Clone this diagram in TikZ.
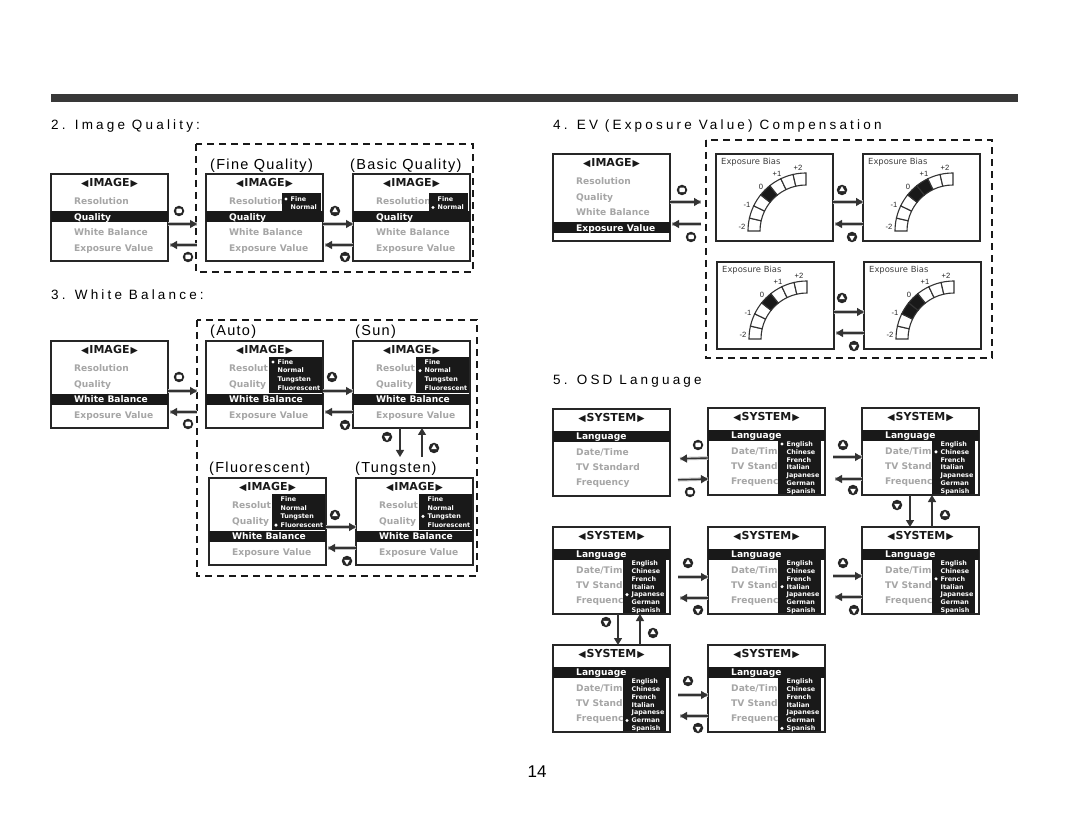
\documentclass[tikz,border=0pt]{standalone}
\usepackage{fontspec}
\setmainfont{Liberation Sans}
\newfontfamily\menufont{DejaVu Sans}
\newfontfamily\headfont[LetterSpace=23.5]{Liberation Sans}
\newfontfamily\capfont[LetterSpace=9]{Liberation Sans}
\usetikzlibrary{arrows.meta,shapes.geometric}

\tikzset{
  screenbox/.style={draw=black!85, line width=1.4pt, fill=white, anchor=north west, inner sep=0, outer sep=0, minimum width=117pt, minimum height=87pt},
  menutitle/.style={font=\menufont\bfseries\fontsize{11}{12}\selectfont, text=black!90, inner sep=0},
  menurow/.style={font=\menufont\bfseries\fontsize{9.1}{10}\selectfont, anchor=west, inner sep=0, text height=8pt, text depth=1.2pt},
  popitem/.style={font=\menufont\bfseries\fontsize{6.4}{7}\selectfont, text=white, anchor=west, inner sep=0, text height=5.6pt, text depth=1pt},
  biastitle/.style={font=\menufont\fontsize{8.4}{9}\selectfont, text=black!75, anchor=west, inner sep=0},
  biasnum/.style={font=\fontsize{7.6}{8}\selectfont, text=black!85, inner sep=0},
  gaugecell/.style={draw=black!80, line width=1.1pt},
  heading/.style={font=\headfont\fontsize{13.5}{14}\selectfont, anchor=west, inner sep=0},
  modelabel/.style={font=\capfont\fontsize{14.5}{15}\selectfont, anchor=west, inner sep=0},
  dashbox/.style={draw=black!90, line width=2pt, dash pattern=on 7pt off 5pt},
  arrowline/.style={-{Triangle[length=7pt,width=8pt]}, line width=1.4pt, black!80, preaction={draw, black!25, line width=3.5pt, -}},
  arrowplain/.style={-{Triangle[length=7pt,width=8pt]}, line width=1.4pt, black!80},
  btnbase/.style={circle, fill=black!85, minimum size=10.5pt, inner sep=0},
  btnglyph/.style={regular polygon, regular polygon sides=3, fill=white, minimum size=6.5pt, inner sep=0},
  btnring/.style={rounded corners=1pt, fill=white, minimum width=5.5pt, minimum height=4.5pt, inner sep=0}
}

\newcommand{\titleleft}{{\fontsize{9.5}{9.5}\selectfont ◀}\kern1pt}
\newcommand{\titleright}{\kern1pt{\fontsize{9.5}{9.5}\selectfont ▶}}

% name, x, y, highlighted row, first row text
\newcommand{\imagescreen}[5]{%
  \node[screenbox] (#1) at (#2,#3) {};
  \begin{scope}[shift={(#2,#3)}]
    \node[menutitle] (#1-title) at (58.5,9) {\titleleft IMAGE\titleright};
    \foreach \rowtext [count=\rown] in {#5,Quality,White Balance,Exposure Value} {
      \pgfmathsetmacro{\rowy}{27.5+(\rown-1)*15.4}
      \ifnum\rown=#4
        \fill[black!90] (0,\rowy-5.5) rectangle (117,\rowy+5.5);
        \node[menurow,text=white] (#1-r\rown) at (23,\rowy) {\rowtext};
      \else
        \node[menurow,text=black!35] (#1-r\rown) at (23,\rowy) {\rowtext};
      \fi
    }
  \end{scope}
}

% name, x, y, the three rows under the bar
\newcommand{\systemscreen}[4]{%
  \node[screenbox] (#1) at (#2,#3) {};
  \begin{scope}[shift={(#2,#3)}]
    \node[menutitle] (#1-title) at (58.5,9.5) {\titleleft SYSTEM\titleright};
    \fill[black!90] (0,22) rectangle (117,33);
    \node[menurow,text=white] (#1-lang) at (23,27.5) {Language};
    \foreach \rowtext [count=\rown] in {#4} {
      \pgfmathsetmacro{\rowy}{43+(\rown-1)*15.2}
      \node[menurow,text=black!35] (#1-r\rown) at (23,\rowy) {\rowtext};
    }
  \end{scope}
}

% screen, left, top, right, bottom, first item y, item step, bullet item, items
\newcommand{\popuplist}[9]{%
  \begin{scope}[shift={(#1.north west)}]
    \fill[black!90] (#2,#3) rectangle (#4,#5);
    \foreach \itemtext [count=\itemn] in {#9} {
      \pgfmathsetmacro{\itemy}{#6+(\itemn-1)*#7}
      \node[popitem] (#1-p\itemn) at (#2+8.5,\itemy) {\itemtext};
      \ifnum\itemn=#8
        \fill[white] (#2+4,\itemy) circle[radius=1.7pt];
      \fi
    }
  \end{scope}
}
\newcommand{\qualpopup}[2]{\popuplist{#1}{76}{19}{115}{38}{25}{8.5}{#2}{Fine,Normal}}
\newcommand{\wbpopup}[2]{\popuplist{#1}{63}{16}{116}{52}{21}{8.7}{#2}{Fine,Normal,Tungsten,Fluorescent}}
\newcommand{\langpopup}[2]{\popuplist{#1}{70}{33}{113}{86}{36}{7.9}{#2}{English,Chinese,French,Italian,Japanese,German,Spanish}}

% name, x, y, first and last dark cell
\newcommand{\biasscreen}[5]{%
  \node[screenbox] (#1) at (#2,#3) {};
  \begin{scope}[shift={(#2,#3)}]
    \node[biastitle] (#1-title) at (5,8) {Exposure Bias};
    \coordinate (#1-c) at (90,77);
    \foreach \s [evaluate=\s as \anga using 180-\s*90/7, evaluate=\s as \angb using 180-(\s+1)*90/7] in {0,...,6} {
      \def\cellfill{white}
      \ifnum\s<#4 \else\ifnum\s>#5 \else\def\cellfill{black!90}\fi\fi
      \draw[gaugecell,fill=\cellfill] (#1-c) ++(\anga:58pt) arc[start angle=\anga,end angle=\angb,radius=58pt]
        -- ++(\angb+180:12pt) arc[start angle=\angb,end angle=\anga,radius=46pt] -- cycle;
    }
    \node[biasnum] (#1-n1) at (26,73) {-2};
    \node[biasnum] (#1-n2) at (31,51) {-1};
    \node[biasnum] (#1-n3) at (45,33) {0};
    \node[biasnum] (#1-n4) at (61,20) {+1};
    \node[biasnum] (#1-n5) at (82,14) {+2};
  \end{scope}
}

\newcommand{\btnup}[3]{%
  \node[btnbase] (#1) at (#2,#3) {};
  \node[btnglyph] (#1-g) at ([yshift=0.5pt]#1) {};
}
\newcommand{\btndown}[3]{%
  \node[btnbase] (#1) at (#2,#3) {};
  \node[btnglyph,shape border rotate=180] (#1-g) at ([yshift=-0.5pt]#1) {};
}
\newcommand{\btnok}[3]{%
  \node[btnbase] (#1) at (#2,#3) {};
  \node[btnring] (#1-g) at (#1) {};
}

% gap, left end, right end, y of right arrow, y of left arrow (below the tops)
\newcommand{\arrowpair}[5]{%
  \draw[arrowline,shorten <=#1pt] ([yshift=-#4pt]#2) -- ([yshift=-#4pt]#3);
  \draw[arrowline,shorten >=#1pt+2pt] ([yshift=-#5pt]#3) -- ([yshift=-#5pt]#2);
}
% upper end, lower end, x of down arrow, x of up arrow
\newcommand{\vertpair}[4]{%
  \draw[arrowplain] ([xshift=#3pt]#1) -- ([xshift=#3pt]#2);
  \draw[arrowplain] ([xshift=#4pt]#2) -- ([xshift=#4pt]#1);
}

\begin{document}
\begin{tikzpicture}[x=1pt,y=-1pt]
  \useasboundingbox (0,0) rectangle (1080,834);
  \fill[black!78] (51,94) rectangle (1018,102);

  \node[heading] (headq) at (51,126) {2. Image Quality:};
  \node[heading] (headw) at (51,295) {3. White Balance:};
  \node[heading] (heade) at (553,126) {4. EV (Exposure Value) Compensation};
  \node[heading] (headl) at (553,381) {5. OSD Language};
  \node[font=\fontsize{17}{18}\selectfont,inner sep=0] (pagenum) at (537,772) {14};

  % image quality
  \draw[dashbox] (196,144) rectangle (473,272);
  \node[modelabel] (lfine) at (210,166) {(Fine Quality)};
  \node[modelabel] (lbasic) at (350,166) {(Basic Quality)};
  \imagescreen{imgq}{51}{174}{2}{Resolution}
  \imagescreen{fineq}{206}{174}{2}{Resolution}
  \imagescreen{basicq}{353}{174}{2}{Resolution}
  \qualpopup{fineq}{1}
  \qualpopup{basicq}{2}
  \coordinate (qedge) at (197,174);
  \arrowpair{0}{imgq.north east}{qedge}{50}{71}
  \arrowpair{0}{fineq.north east}{basicq.north west}{50}{71}
  \btnok{bq1}{179}{211}
  \btnok{bq2}{188}{257}
  \btnup{bq3}{335}{211}
  \btndown{bq4}{345}{257}

  % white balance
  \draw[dashbox] (197,320) rectangle (477,576);
  \node[modelabel] (lauto) at (210,332) {(Auto)};
  \node[modelabel] (lsun) at (355,332) {(Sun)};
  \node[modelabel] (lfluo) at (209,469) {(Fluorescent)};
  \node[modelabel] (ltung) at (355,469) {(Tungsten)};
  \imagescreen{imgw}{51}{341}{3}{Resolution}
  \imagescreen{autow}{206}{341}{3}{Resolut}
  \imagescreen{sunw}{353}{341}{3}{Resolut}
  \imagescreen{fluow}{209}{478}{3}{Resolut}
  \imagescreen{tungw}{356}{478}{3}{Resolut}
  \wbpopup{autow}{1}
  \wbpopup{sunw}{2}
  \wbpopup{fluow}{4}
  \wbpopup{tungw}{3}
  \coordinate (wedge) at (197,341);
  \coordinate (sunfoot) at (353,457);
  \arrowpair{0}{imgw.north east}{wedge}{50}{71}
  \arrowpair{0}{autow.north east}{sunw.north west}{50}{71}
  \arrowpair{0}{fluow.north east}{tungw.north west}{49}{70}
  \vertpair{sunw.south west}{sunfoot}{47}{69}
  \btnok{bw1}{179}{377}
  \btnok{bw2}{188}{424}
  \btnup{bw3}{332}{377}
  \btndown{bw4}{345}{425}
  \btndown{bw5}{387}{437}
  \btnup{bw6}{434}{448}
  \btnup{bw7}{335}{515}
  \btndown{bw8}{347}{561}

  % exposure value
  \draw[dashbox] (706,140) rectangle (992,358);
  \imagescreen{imge}{553}{154}{4}{Resolution}
  \biasscreen{biasa}{716}{154}{3}{3}
  \biasscreen{biasb}{863}{154}{3}{4}
  \biasscreen{biasc}{717}{262}{3}{3}
  \biasscreen{biasd}{864}{262}{2}{3}
  \coordinate (eedge) at (701,154);
  \arrowpair{0}{imge.north east}{eedge}{48}{70}
  \arrowpair{0}{biasa.north east}{biasb.north west}{48}{70}
  \arrowpair{0}{biasc.north east}{biasd.north west}{50}{71}
  \btnok{be1}{682}{190}
  \btnok{be2}{691}{237}
  \btnup{be3}{842}{190}
  \btndown{be4}{852}{237}
  \btnup{be5}{842}{298}
  \btndown{be6}{854}{346}

  % language
  \systemscreen{sysa}{553}{409}{Date/Time,TV Standard,Frequency}
  \systemscreen{sysb}{708}{408}{Date/Tim,TV Stand,Frequenc}
  \systemscreen{sysc}{862}{408}{Date/Tim,TV Stand,Frequenc}
  \systemscreen{sysd}{553}{527}{Date/Tim,TV Stand,Frequenc}
  \systemscreen{syse}{708}{527}{Date/Tim,TV Stand,Frequenc}
  \systemscreen{sysf}{862}{527}{Date/Tim,TV Stand,Frequenc}
  \systemscreen{sysg}{553}{645}{Date/Tim,TV Stand,Frequenc}
  \systemscreen{sysh}{708}{645}{Date/Tim,TV Stand,Frequenc}
  \langpopup{sysb}{1}
  \langpopup{sysc}{2}
  \langpopup{sysf}{3}
  \langpopup{syse}{4}
  \langpopup{sysd}{5}
  \langpopup{sysg}{6}
  \langpopup{sysh}{7}
  \arrowpair{8}{sysa.north east}{sysb.north west}{71}{50}
  \arrowpair{8}{sysb.north east}{sysc.north west}{49}{71}
  \arrowpair{8}{sysd.north east}{syse.north west}{50}{71}
  \arrowpair{8}{syse.north east}{sysf.north west}{49}{70}
  \arrowpair{8}{sysg.north east}{sysh.north west}{50}{71}
  \vertpair{sysc.south west}{sysf.north west}{48}{70}
  \vertpair{sysd.south west}{sysg.north west}{65}{87}
  \btnok{bl1}{698}{445}
  \btnok{bl2}{690}{492}
  \btnup{bl3}{843}{445}
  \btndown{bl4}{853}{490}
  \btndown{bl5}{897}{505}
  \btnup{bl6}{945}{515}
  \btnup{bl7}{843}{563}
  \btndown{bl8}{854}{610}
  \btnup{bl9}{688}{563}
  \btndown{bl10}{698}{610}
  \btndown{bl11}{606}{622}
  \btnup{bl12}{653}{633}
  \btnup{bl13}{688}{681}
  \btndown{bl14}{698}{728}
\end{tikzpicture}
\end{document}
